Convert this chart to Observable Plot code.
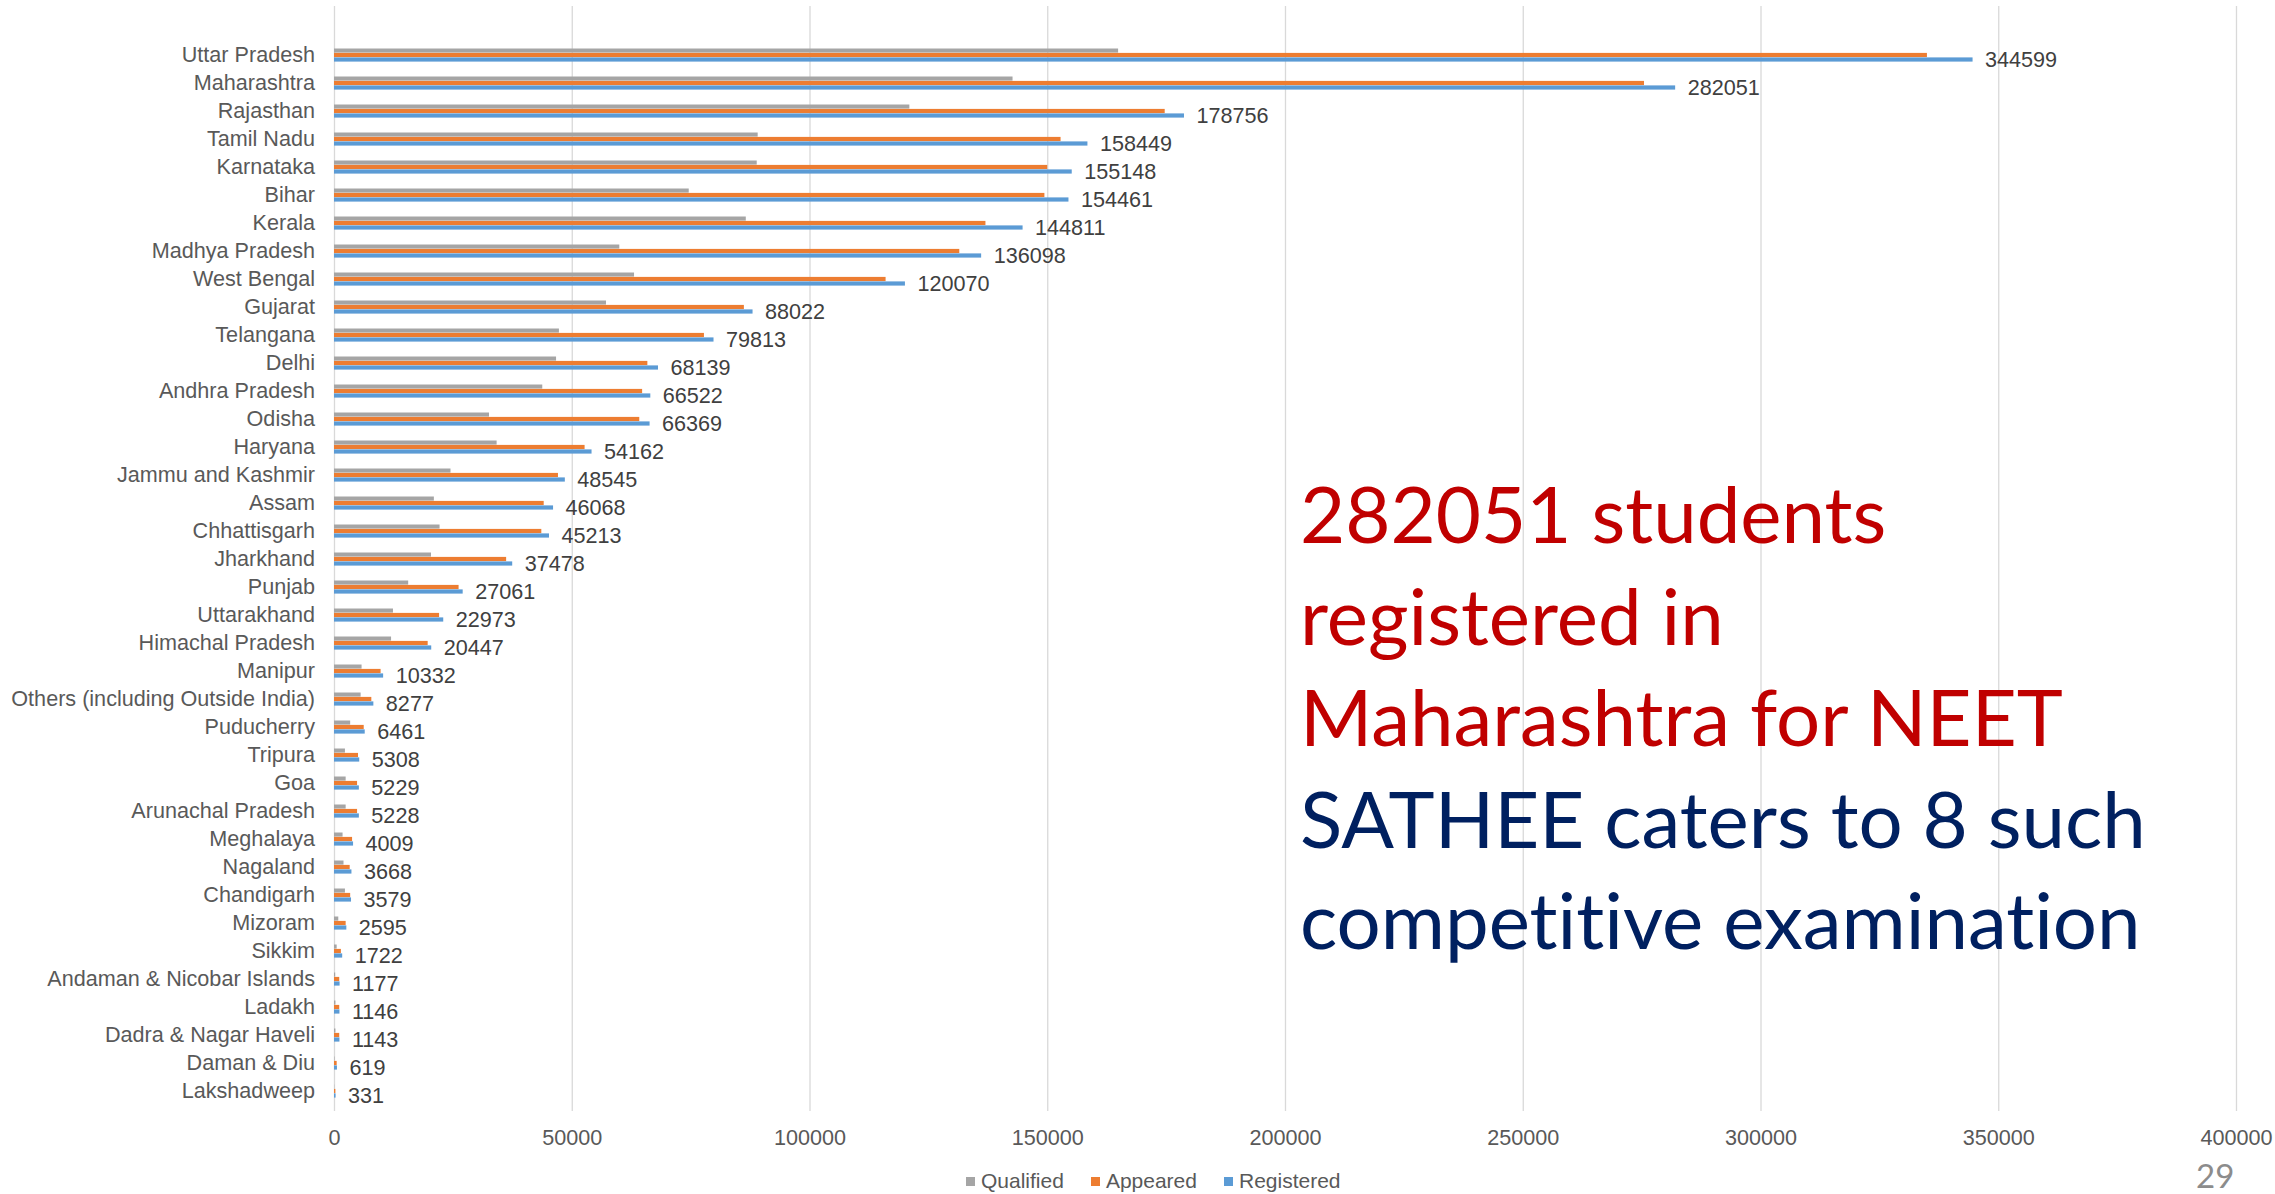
<!DOCTYPE html>
<html>
<head>
<meta charset="utf-8">
<script src="https://cdn.jsdelivr.net/npm/d3@7"></script>
<script src="https://cdn.jsdelivr.net/npm/@observablehq/plot@0.6"></script>
<style>
  html, body { margin: 0; padding: 0; background: #fff; overflow: hidden; }
  #wrap { position: relative; width: 2275px; height: 1194px; }
  .sans { font-family: "Liberation Sans", Arial, sans-serif; }
  #legend { position: absolute; left: 966px; top: 1160px; height: 42px; display: flex; gap: 27px; align-items: center; font-size: 21px; color: #595959; }
  #legend .item { display: flex; align-items: center; gap: 6px; }
  #legend .sw { width: 9px; height: 9px; display: inline-block; }
  #note { position: absolute; left: 1300px; top: 463px; font-family: Lato, "Open Sans", sans-serif; font-size: 78px; line-height: 101.5px; white-space: nowrap; font-variant-ligatures: none; font-feature-settings: "liga" 0; }
  #note .red { color: #C00000; }
  #note .navy { color: #002060; }
  #page { position: absolute; left: 2196px; top: 1155px; font-family: Lato, sans-serif; font-size: 33px; color: #8c8c8c; }
</style>
</head>
<body>
<div id="wrap">
  <div id="chart"></div>
  <div id="legend" class="sans"></div>
  <div id="note"></div>
  <div id="page">29</div>
</div>
<script>
const states = ["Uttar Pradesh","Maharashtra","Rajasthan","Tamil Nadu","Karnataka","Bihar","Kerala","Madhya Pradesh","West Bengal","Gujarat","Telangana","Delhi","Andhra Pradesh","Odisha","Haryana","Jammu and Kashmir","Assam","Chhattisgarh","Jharkhand","Punjab","Uttarakhand","Himachal Pradesh","Manipur","Others (including Outside India)","Puducherry","Tripura","Goa","Arunachal Pradesh","Meghalaya","Nagaland","Chandigarh","Mizoram","Sikkim","Andaman & Nicobar Islands","Ladakh","Dadra & Nagar Haveli","Daman & Diu","Lakshadweep"];
const registered = [344599,282051,178756,158449,155148,154461,144811,136098,120070,88022,79813,68139,66522,66369,54162,48545,46068,45213,37478,27061,22973,20447,10332,8277,6461,5308,5229,5228,4009,3668,3579,2595,1722,1177,1146,1143,619,331];
const appeared = [335000,275500,174700,152800,150000,149400,137000,131500,116000,86200,77800,65900,64800,64200,52700,47100,44100,43600,36200,26200,22100,19700,9800,7850,6250,5050,4850,4850,3800,3300,3400,2450,1450,1100,1100,1100,560,290];
const qualified = [164900,142700,121000,89100,88900,74600,86600,60000,63100,57200,47300,46700,43800,32600,34200,24500,21000,22200,20400,15600,12400,12000,5800,5600,3400,2300,2450,2450,1800,2000,2300,900,560,250,300,300,100,50];
const xTicks = [0,50000,100000,150000,200000,250000,300000,350000,400000];
const seriesNames = ["Qualified","Appeared","Registered"];
const seriesColors = ["#A5A5A5","#ED7D31","#5B9BD5"];
const noteLines = [
  ["282051 students","red"],
  ["registered in","red"],
  ["Maharashtra for NEET","red"],
  ["SATHEE caters to 8 such","navy"],
  ["competitive examination","navy"]
];

const data = states.map((s,i) => ({state: s, qualified: qualified[i], appeared: appeared[i], registered: registered[i]}));

const chart = Plot.plot({
  width: 2275,
  height: 1160,
  marginLeft: 334,
  marginRight: 39,
  marginTop: 6,
  marginBottom: 49,
  style: {fontFamily: '"Liberation Sans", Arial, sans-serif', fontSize: "21.6px", color: "#595959", background: "#fff"},
  x: {domain: [0, 400000]},
  y: {domain: states, range: [34.1, 1111.2], padding: 0},
  marks: [
    Plot.gridX(xTicks, {stroke: "#d9d9d9", strokeOpacity: 1, strokeWidth: 1.3}),
    Plot.axisX(xTicks, {tickSize: 0, tickPadding: 18, tickFormat: d => String(d), label: null, fill: "#595959"}),
    Plot.axisY({tickSize: 0, tickPadding: 19.5, label: null, fill: "#595959"}),
    Plot.barX(data, {x: "qualified", y: "state", fill: seriesColors[0], insetTop: 7.5, insetBottom: 16.4}),
    Plot.barX(data, {x: "appeared", y: "state", fill: seriesColors[1], insetTop: 11.9, insetBottom: 11.9}),
    Plot.barX(data, {x: "registered", y: "state", fill: seriesColors[2], insetTop: 16.4, insetBottom: 7.4}),
    Plot.text(data, {x: "registered", y: "state", text: d => String(d.registered), textAnchor: "start", dx: 12, dy: 5, fill: "#404040"})
  ]
});
document.getElementById("chart").appendChild(chart);

const legend = document.getElementById("legend");
seriesNames.forEach((n,i) => {
  const it = document.createElement("span");
  it.className = "item";
  it.innerHTML = `<span class="sw" style="background:${seriesColors[i]}"></span><span>${n}</span>`;
  legend.appendChild(it);
});

const note = document.getElementById("note");
noteLines.forEach(([t,c]) => {
  const d = document.createElement("div");
  d.className = c;
  d.textContent = t;
  note.appendChild(d);
});
</script>
</body>
</html>
